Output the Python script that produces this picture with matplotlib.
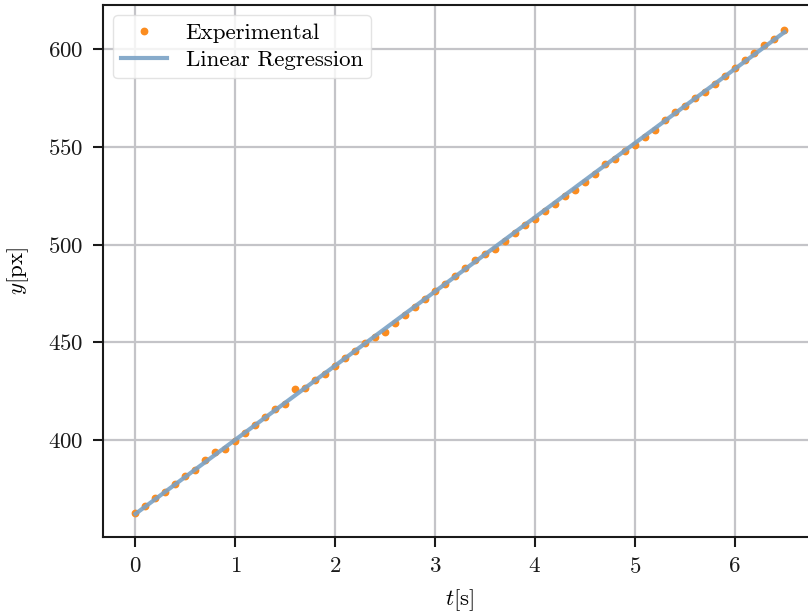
import numpy as np
import matplotlib
matplotlib.use("Agg")
import matplotlib.pyplot as plt

plt.rcParams['font.family'] = 'serif'
plt.rcParams['font.serif'] = ['cmr10']
plt.rcParams['mathtext.fontset'] = 'cm'
plt.rcParams['axes.formatter.use_mathtext'] = True

# time [s] and position [px]
t = [0.0, 0.1, 0.2, 0.3, 0.4, 0.5, 0.6, 0.7, 0.8, 0.9,
     1.0, 1.1, 1.2, 1.3, 1.4, 1.5, 1.6, 1.7, 1.8, 1.9,
     2.0, 2.1, 2.2, 2.3, 2.4, 2.5, 2.6, 2.7, 2.8, 2.9,
     3.0, 3.1, 3.2, 3.3, 3.4, 3.5, 3.6, 3.7, 3.8, 3.9,
     4.0, 4.1, 4.2, 4.3, 4.4, 4.5, 4.6, 4.7, 4.8, 4.9,
     5.0, 5.1, 5.2, 5.3, 5.4, 5.5, 5.6, 5.7, 5.8, 5.9,
     6.0, 6.1, 6.2, 6.3, 6.4, 6.5]
y = [362.8, 366.6, 370.7, 373.8, 377.8, 381.6, 385.0, 389.8, 393.9, 395.6,
     399.6, 403.7, 407.9, 411.9, 416.0, 418.8, 426.0, 426.8, 430.7, 433.8,
     437.9, 442.0, 445.7, 449.8, 452.8, 455.6, 459.7, 463.8, 467.9, 472.0,
     476.1, 479.8, 483.9, 488.0, 492.1, 495.1, 497.9, 501.9, 506.0, 509.8,
     513.2, 517.0, 520.7, 524.8, 527.9, 532.0, 536.1, 541.2, 543.9, 548.0,
     551.1, 555.2, 558.7, 563.8, 567.9, 571.0, 575.1, 577.8, 581.9, 586.0,
     590.1, 594.2, 598.0, 602.0, 605.1, 609.9]

t = np.array(t)
y = np.array(y)
slope, intercept = np.polyfit(t, y, 1)

fig = plt.figure(figsize=(8.08, 6.16), dpi=100)
ax = fig.add_axes([0.1275, 0.128, 0.8835, 0.864])

ax.grid(True, color='#c4c4c8', linewidth=1.6, zorder=0)
ax.plot(t, y, 'o', color='#fb8c1f', markersize=4.6, label='Experimental', zorder=2)
ax.plot(t, slope * t + intercept, color='#7aa2c6', linewidth=3.0, alpha=0.9,
        label='Linear Regression', zorder=3)

ax.set_xticks([0, 1, 2, 3, 4, 5, 6])
ax.set_yticks([400, 450, 500, 550, 600])
ax.set_xlim(-0.325, 6.825)
ax.set_ylim(350.5, 622.5)

for s in ax.spines.values():
    s.set_color('#1a1a1a')
    s.set_linewidth(1.5)
ax.tick_params(direction='out', length=7, width=1.5, colors='#1a1a1a',
               labelsize=16.5, pad=7)

ax.set_xlabel('$t$[s]', fontsize=16.5, labelpad=8)
ax.set_ylabel('$y$[px]', fontsize=16.5, labelpad=12)

leg = ax.legend(loc='upper left', fontsize=16.5, frameon=True, framealpha=0.8,
                edgecolor='#dddddd', fancybox=True, borderpad=0.35,
                handlelength=2.0, labelspacing=0.3, borderaxespad=0.45)
leg.get_frame().set_linewidth(1.0)

fig.savefig('out.png', dpi=100)
